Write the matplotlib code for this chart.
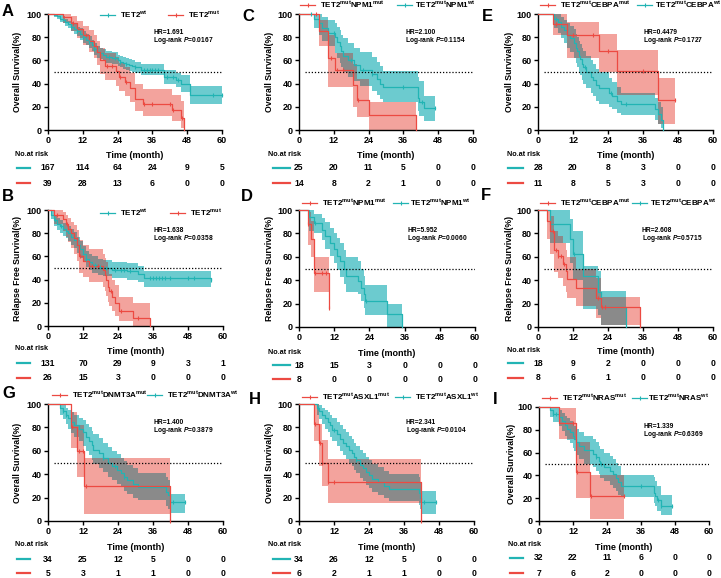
import numpy as np
import matplotlib
matplotlib.use('Agg')
import matplotlib.pyplot as plt
from matplotlib import transforms

plt.rcParams['font.family'] = ['Liberation Sans', 'DejaVu Sans']
plt.rcParams['font.weight'] = 'bold'
plt.rcParams['mathtext.fontset'] = 'custom'
plt.rcParams['mathtext.rm'] = 'Liberation Sans:bold'
plt.rcParams['mathtext.it'] = 'Liberation Sans:italic:bold'
plt.rcParams['mathtext.bf'] = 'Liberation Sans:bold'

CYAN, CYAN_F = '#22b4b4', '#6ccbcf'
RED, RED_F = '#ec4a42', '#f3a39d'
GRAY = '#8a8a8a'

# ---- data (time in months, survival %) ----
# A: OS, TET2 wt vs mut
A_wt_t = [0, 2, 3, 4, 5, 6, 7, 8, 9, 10, 11, 12, 13, 14, 15, 16, 17, 18, 19, 20, 22, 24, 25, 26, 27, 28, 29, 30, 32, 40, 44, 46, 49, 60]
A_wt_s = [100, 99, 98, 96, 95, 93, 91, 89, 87, 85, 83, 80, 78, 76, 73, 70, 67, 66, 65, 63, 62, 60, 59, 58, 57, 56, 55, 54, 52, 46, 43, 40, 30, 30]
A_wt_lo = [100, 97, 96, 93, 92, 90, 88, 85, 83, 81, 78, 75, 73, 71, 68, 65, 62, 61, 60, 58, 57, 55, 54, 53, 52, 51, 50, 49, 47, 40, 37, 33, 22, 22]
A_wt_hi = [100, 100, 100, 99, 98, 96, 94, 93, 91, 89, 88, 85, 83, 81, 78, 75, 72, 71, 70, 68, 67, 65, 64, 63, 62, 61, 60, 59, 57, 52, 49, 47, 38, 38]
A_wt_c = [8, 10, 12, 14, 16, 21, 23, 25, 27, 30, 33, 34, 35, 36, 37, 38, 41, 43, 45, 57, 60]
A_mut_t = [0, 5, 8, 10, 12, 14, 16, 17, 18, 19.7, 23.5, 24.5, 26.5, 28.3, 30, 32.9, 42.6, 46, 46.9]
A_mut_s = [100, 97, 92, 87, 82, 77, 72, 67, 60, 55, 51, 46, 41, 36, 27, 22, 17, 10, 0]
A_mut_lo = [100, 92, 85, 79, 73, 67, 62, 56, 48, 43, 38, 34, 29, 24, 16, 12, 8, 2, 0]
A_mut_hi = [100, 100, 98, 94, 90, 86, 82, 77, 71, 66, 63, 58, 54, 49, 40, 35, 30, 25, 0]
A_mut_c = [8.5, 13, 20.5, 22, 25, 27, 33, 36, 42, 43, 46.3]

# B: RFS, TET2 wt vs mut
B_wt_t = [0, 1, 2, 3, 4, 5, 6, 7, 8, 9, 10, 11, 12, 13, 14, 15, 17, 19, 22, 27, 31, 33, 56]
B_wt_s = [100, 96, 91, 88, 86, 84, 82, 80, 77, 74, 70, 66, 62, 58, 55, 53, 51, 50, 48, 47, 45, 41, 40]
B_wt_lo = [100, 92, 86, 83, 80, 78, 76, 73, 70, 67, 63, 59, 55, 51, 48, 46, 44, 43, 41, 40, 38, 34, 34]
B_wt_hi = [100, 99, 96, 93, 91, 89, 88, 86, 84, 81, 77, 73, 69, 65, 62, 60, 58, 57, 55, 54, 52, 47, 46]
B_wt_c = [2.5, 4.5, 13, 15, 16, 18, 20, 23, 25, 26, 28, 35, 36, 37, 38, 39, 40, 42, 48, 50, 56]
B_mut_t = [0, 2, 5, 6, 7, 8, 9, 10, 10.5, 12, 14, 19, 19.5, 20, 20.5, 21, 22, 23, 24.5, 29, 35]
B_mut_s = [100, 96, 92, 88, 84, 80, 76, 70, 60, 56, 52, 48, 44, 40, 34, 30, 25, 20, 13, 7, 0]
B_mut_lo = [100, 88, 82, 77, 72, 67, 62, 56, 46, 42, 38, 34, 30, 26, 21, 17, 13, 9, 4, 0, 0]
B_mut_hi = [100, 100, 98, 96, 93, 90, 87, 83, 74, 70, 66, 62, 59, 55, 49, 45, 40, 35, 25, 20, 0]
B_mut_c = [3, 6.5, 11, 15, 17, 21.5, 25, 31]

# C: OS, NPM1
C_mut_t = [0, 7, 10, 12.4, 18.7, 20, 24, 40.2]
C_mut_s = [100, 85, 62, 52, 39, 26, 13, 0]
C_mut_lo = [100, 72, 37, 37, 20, 11, 0, 0]
C_mut_hi = [100, 95, 82, 66, 57, 44, 24, 0]
C_mut_c = [6, 11, 13, 15, 20.5]
C_wt_t = [0, 5, 7, 8, 10, 12.5, 13, 14, 14.5, 15, 17, 19, 21, 25, 27, 28, 29, 41, 41.5, 43, 47]
C_wt_s = [100, 96, 92, 88, 84, 80, 76, 72, 68, 64, 60, 56, 52, 48, 44, 40, 37, 28, 24, 19, 19]
C_wt_lo = [100, 88, 82, 77, 72, 66, 62, 58, 54, 50, 46, 42, 38, 34, 30, 27, 24, 16, 12, 8, 8]
C_wt_hi = [100, 100, 100, 97, 95, 92, 89, 86, 82, 79, 75, 71, 67, 63, 59, 55, 51, 46, 42, 29, 29]
C_wt_c = [4, 12, 18, 22, 25, 36, 42.5, 47]

# D: RFS, NPM1
D_mut_t = [0, 3, 4, 5, 10.2]
D_mut_s = [100, 88, 75, 46, 16]
D_mut_lo = [100, 70, 60, 30, 16]
D_mut_hi = [100, 98, 91, 60, 16]
D_mut_c = [3.2, 5.3, 7.7, 9.2, 10.2]
D_wt_t = [0, 3.5, 5, 8, 9, 10.5, 12, 13, 14, 15.5, 16, 20, 21, 22, 22.5, 30, 35]
D_wt_s = [100, 94, 89, 83, 78, 72, 67, 61, 56, 50, 44, 39, 33, 28, 22, 11, 0]
D_wt_lo = [100, 82, 80, 74, 67, 61, 55, 49, 43, 37, 30, 28, 22, 16, 10, 0, 0]
D_wt_hi = [100, 100, 97, 93, 90, 85, 80, 76, 72, 66, 60, 56, 50, 44, 36, 20, 0]
D_wt_c = [5.5, 23]

# E: OS, CEBPA
E_mut_t = [0, 5, 10, 21, 27, 41, 47]
E_mut_s = [100, 91, 82, 68, 51, 26, 26]
E_mut_lo = [100, 82, 62, 50, 30, 5, 5]
E_mut_hi = [100, 100, 93, 83, 69, 45, 45]
E_mut_c = [6, 12, 19, 24, 36, 47]
E_wt_t = [0, 5.5, 7, 8, 9, 10, 11, 12.5, 13, 13.5, 14, 14.5, 15, 15.5, 16.5, 18, 19, 20, 21, 24.5, 25.5, 27, 28.5, 40, 41, 42, 43]
E_wt_s = [100, 96, 93, 89, 86, 82, 79, 75, 71, 68, 64, 61, 57, 54, 50, 46, 43, 39, 36, 32, 29, 25, 22, 18, 14, 9, 0]
E_wt_lo = [100, 88, 84, 79, 75, 71, 67, 62, 58, 54, 50, 47, 43, 40, 36, 32, 29, 25, 22, 20, 18, 15, 13, 9, 5, 2, 0]
E_wt_hi = [100, 100, 100, 97, 95, 92, 90, 87, 83, 80, 77, 74, 71, 68, 64, 60, 57, 53, 50, 45, 41, 37, 32, 28, 24, 20, 0]
E_wt_c = [6, 16, 25, 30]

# F: RFS, CEBPA
F_mut_t = [0, 3, 4, 5.5, 7, 8.5, 9.5, 10, 13, 20, 21.5, 35]
F_mut_s = [100, 91, 82, 66, 61, 54, 48, 41, 33, 25, 17, 0]
F_mut_lo = [100, 75, 62, 47, 42, 35, 30, 25, 18, 8, 2, 0]
F_mut_hi = [100, 100, 95, 82, 78, 72, 66, 60, 50, 42, 26, 0]
F_mut_c = [5, 6, 7, 8, 9, 20.5, 22, 23]
F_wt_t = [0, 4, 11, 12, 15.5, 20.5, 21.5, 30]
F_wt_s = [100, 88, 75, 62, 44, 30, 17, 0]
F_wt_lo = [100, 72, 55, 40, 15, 10, 2, 0]
F_wt_hi = [100, 100, 92, 82, 52, 48, 31, 0]
F_wt_c = [12.5]

# G: OS, DNMT3A
G_mut_t = [0, 8, 10, 12.5, 42]
G_mut_s = [100, 80, 60, 30, 0]
G_mut_lo = [100, 62, 38, 6, 0]
G_mut_hi = [100, 93, 82, 54, 0]
G_mut_c = [8.3, 10.5, 12, 13, 42]
G_wt_t = [0, 4, 5, 6, 7, 8, 9, 10.5, 12, 13, 14, 15, 15.5, 17.5, 19, 20.5, 22, 23.5, 25, 26, 27, 29, 31, 40.5, 41, 42, 47]
G_wt_s = [100, 97, 94, 91, 88, 85, 82, 79, 76, 72, 68, 65, 61, 58, 54, 50, 47, 44, 41, 38, 35, 32, 29, 25, 22, 16, 16]
G_wt_lo = [100, 91, 87, 83, 79, 75, 72, 68, 64, 60, 56, 52, 49, 45, 42, 38, 35, 32, 29, 26, 23, 20, 18, 13, 10, 7, 7]
G_wt_hi = [100, 100, 99, 97, 95, 93, 91, 88, 86, 83, 80, 77, 74, 71, 67, 63, 60, 57, 54, 51, 48, 45, 41, 38, 35, 23, 23]
G_wt_c = [5, 6, 19, 23, 26, 43, 47]

# H: OS, ASXL1
H_mut_t = [0, 5, 7, 8, 10, 42]
H_mut_s = [100, 83, 67, 50, 33, 0]
H_mut_lo = [100, 68, 47, 30, 15, 0]
H_mut_hi = [100, 100, 83, 69, 53, 0]
H_mut_c = [5.5, 7.3, 8, 10, 12, 42]
H_wt_t = [0, 6, 7, 8, 9, 10, 10.5, 11.2, 12.9, 14, 15, 16, 17, 18, 19, 19.5, 21, 22, 23, 24, 25, 27, 29, 31, 41, 41.5, 42, 47]
H_wt_s = [100, 97, 94, 91, 88, 85, 82, 78, 74, 70, 67, 64, 61, 58, 55, 52, 48, 45, 42, 39, 36, 33, 30, 27, 24, 20, 16, 16]
H_wt_lo = [100, 91, 87, 83, 79, 76, 72, 68, 64, 60, 56, 53, 50, 47, 44, 41, 37, 34, 31, 28, 25, 22, 20, 17, 14, 10, 6, 6]
H_wt_hi = [100, 100, 99, 97, 95, 93, 91, 88, 85, 82, 79, 76, 73, 70, 67, 64, 61, 58, 55, 52, 49, 46, 43, 40, 38, 33, 26, 26]
H_wt_c = [6.5, 12, 19.5, 43, 47]

# I: OS, NRAS
I_mut_t = [0, 7, 13, 18, 30]
I_mut_s = [100, 86, 43, 22, 22]
I_mut_lo = [100, 72, 20, 2, 2]
I_mut_hi = [100, 99, 69, 40, 40]
I_mut_c = [12, 13.5, 18.3, 30]
I_wt_t = [0, 4, 5, 7, 8, 9, 10, 11, 12, 12.5, 13, 14, 16, 19, 20, 21, 21.5, 23, 25, 26, 27, 28, 29, 40.5, 41, 41.5, 43, 47]
I_wt_s = [100, 97, 94, 91, 88, 84, 81, 78, 75, 72, 69, 66, 62, 59, 56, 53, 50, 47, 44, 41, 38, 34, 31, 25, 22, 18, 13, 13]
I_wt_lo = [100, 91, 87, 83, 79, 75, 71, 68, 64, 61, 58, 54, 50, 47, 44, 41, 38, 35, 32, 29, 26, 23, 21, 16, 13, 9, 5, 5]
I_wt_hi = [100, 100, 99, 97, 95, 92, 90, 88, 86, 83, 81, 78, 75, 72, 69, 66, 63, 60, 57, 54, 51, 48, 40, 39, 35, 31, 23, 23]
I_wt_c = [5, 6, 20, 22, 36, 42, 43, 47]

# numbers at risk (cyan row, red row)
risk_times = [0, 12, 24, 36, 48, 60]
A_risk = ([167, 114, 64, 24, 9, 5], [39, 28, 13, 6, 0, 0])
B_risk = ([131, 70, 29, 9, 3, 1], [26, 15, 3, 0, 0, 0])
C_risk = ([25, 20, 11, 5, 0, 0], [14, 8, 2, 1, 0, 0])
D_risk = ([18, 15, 3, 0, 0, 0], [8, 0, 0, 0, 0, 0])
E_risk = ([28, 20, 8, 3, 0, 0], [11, 8, 5, 3, 0, 0])
F_risk = ([18, 9, 2, 0, 0, 0], [8, 6, 1, 0, 0, 0])
G_risk = ([34, 25, 12, 5, 0, 0], [5, 3, 1, 1, 0, 0])
H_risk = ([34, 26, 12, 5, 0, 0], [6, 2, 1, 1, 0, 0])
I_risk = ([32, 22, 11, 6, 0, 0], [7, 6, 2, 0, 0, 0])

hr_text = {'A': ('1.691', '0.0167'), 'B': ('1.638', '0.0358'), 'C': ('2.100', '0.1154'),
           'D': ('5.952', '0.0060'), 'E': ('0.4479', '0.1727'), 'F': ('2.608', '0.5715'),
           'G': ('1.400', '0.3879'), 'H': ('2.341', '0.0104'), 'I': ('1.339', '0.6369')}
OS = 'Overall Survival(%)'
RFS = 'Relapse Free Survival(%)'
gene = {'C': 'NPM1', 'D': 'NPM1', 'E': 'CEBPA', 'F': 'CEBPA', 'G': 'DNMT3A', 'H': 'ASXL1', 'I': 'NRAS'}

# layout in pixels
W, H = 721, 578
layout = {
    'A': dict(ax=(48, 14, 174, 116), let=(2, 4), leg=[(100, 120), (168, 188)], legy=15, hr=(153, 33), yl=18, xl=155, rk=(168, 183), nar=(15, 154), rh=(17, 30)),
    'B': dict(ax=(48, 210, 175, 116), let=(2, 189), leg=[(100, 120), (170, 190)], legy=213, hr=(153, 230), yl=18, xl=352, rk=(363, 378), nar=(15, 349), rh=(17, 30)),
    'C': dict(ax=(299, 14, 174, 116), let=(242, 9), leg=[(300, 320), (397, 415)], legy=5, hr=(405, 33), yl=270, xl=156, rk=(168, 183), nar=(268, 154), rh=(273, 290)),
    'D': dict(ax=(299, 210, 176, 117), let=(241, 189), leg=[(302, 322), (393, 410)], legy=203, hr=(407, 230), yl=270, xl=353, rk=(365, 379), nar=(268, 352), rh=(273, 290)),
    'E': dict(ax=(538, 14, 175, 116), let=(482, 9), leg=[(540, 560), (637, 655)], legy=5, hr=(643, 33), yl=510, xl=156, rk=(168, 183), nar=(507, 154), rh=(508, 523)),
    'F': dict(ax=(538, 210, 175, 117), let=(481, 188), leg=[(540, 560), (632, 650)], legy=203, hr=(642, 230), yl=510, xl=352, rk=(363, 378), nar=(507, 350), rh=(508, 523)),
    'G': dict(ax=(48, 404, 175, 117), let=(2, 386), leg=[(52, 72), (147, 167)], legy=395, hr=(153, 423), yl=18, xl=547, rk=(559, 573), nar=(15, 544), rh=(17, 30)),
    'H': dict(ax=(299, 404, 175, 117), let=(249, 392), leg=[(302, 322), (395, 415)], legy=397, hr=(406, 423), yl=270, xl=547, rk=(559, 573), nar=(268, 544), rh=(273, 290)),
    'I': dict(ax=(539, 407, 170, 114), let=(493, 392), leg=[(542, 562), (632, 648)], legy=398, hr=(643, 427), yl=512, xl=547, rk=(558, 573), nar=(508, 544), rh=(510, 523)),
}

panels = {
    'A': ((A_wt_t, A_wt_s, A_wt_lo, A_wt_hi, A_wt_c), (A_mut_t, A_mut_s, A_mut_lo, A_mut_hi, A_mut_c), A_risk, OS),
    'B': ((B_wt_t, B_wt_s, B_wt_lo, B_wt_hi, B_wt_c), (B_mut_t, B_mut_s, B_mut_lo, B_mut_hi, B_mut_c), B_risk, RFS),
    'C': ((C_wt_t, C_wt_s, C_wt_lo, C_wt_hi, C_wt_c), (C_mut_t, C_mut_s, C_mut_lo, C_mut_hi, C_mut_c), C_risk, OS),
    'D': ((D_wt_t, D_wt_s, D_wt_lo, D_wt_hi, D_wt_c), (D_mut_t, D_mut_s, D_mut_lo, D_mut_hi, D_mut_c), D_risk, RFS),
    'E': ((E_wt_t, E_wt_s, E_wt_lo, E_wt_hi, E_wt_c), (E_mut_t, E_mut_s, E_mut_lo, E_mut_hi, E_mut_c), E_risk, OS),
    'F': ((F_wt_t, F_wt_s, F_wt_lo, F_wt_hi, F_wt_c), (F_mut_t, F_mut_s, F_mut_lo, F_mut_hi, F_mut_c), F_risk, RFS),
    'G': ((G_wt_t, G_wt_s, G_wt_lo, G_wt_hi, G_wt_c), (G_mut_t, G_mut_s, G_mut_lo, G_mut_hi, G_mut_c), G_risk, OS),
    'H': ((H_wt_t, H_wt_s, H_wt_lo, H_wt_hi, H_wt_c), (H_mut_t, H_mut_s, H_mut_lo, H_mut_hi, H_mut_c), H_risk, OS),
    'I': ((I_wt_t, I_wt_s, I_wt_lo, I_wt_hi, I_wt_c), (I_mut_t, I_mut_s, I_mut_lo, I_mut_hi, I_mut_c), I_risk, OS),
}


def step_at(t, v, x):
    i = np.searchsorted(np.asarray(t), x, side='right') - 1
    return np.asarray(v, dtype=float)[np.clip(i, 0, len(v) - 1)]


fig = plt.figure(figsize=(W / 100, H / 100), dpi=100)
ov = fig.add_axes([0, 0, 1, 1])
ov.set_xlim(0, W)
ov.set_ylim(H, 0)
ov.axis('off')

for key, (wt, mut, risk, ylab) in panels.items():
    L = layout[key]
    x0, yt, w, h = L['ax']
    ax = fig.add_axes([x0 / W, 1 - (yt + h) / H, w / W, h / H])
    # confidence bands
    for (t, s, lo, hi, c), fc in ((wt, CYAN_F), (mut, RED_F)):
        ax.fill_between(t, lo, hi, step='post', color=fc, lw=0, zorder=1)
    # where the two bands overlap -> gray
    tend = min(wt[0][-1], mut[0][-1])
    grid = np.unique(np.concatenate([wt[0], mut[0]]))
    grid = grid[grid <= tend]
    olo = np.maximum(step_at(wt[0], wt[2], grid), step_at(mut[0], mut[2], grid))
    ohi = np.minimum(step_at(wt[0], wt[3], grid), step_at(mut[0], mut[3], grid))
    ohi = np.maximum(ohi, olo)
    ax.fill_between(grid, olo, ohi, step='post', color=GRAY, lw=0, zorder=2)
    # curves + censor ticks
    for (t, s, lo, hi, c), lc in ((wt, CYAN), (mut, RED)):
        ax.step(t, s, where='post', color=lc, lw=0.9, zorder=4, clip_on=False)
        ax.plot(c, step_at(t, s, c), ls='none', marker='|', ms=3, mew=0.8, color=lc, zorder=5, clip_on=False)
    ax.plot([2, 60], [50, 50], ls=(0, (1, 1.5)), color='black', lw=0.9, zorder=6)

    ax.set_xlim(0, 60)
    ax.set_ylim(0, 100)
    ax.set_xticks(risk_times)
    ax.set_yticks([0, 20, 40, 60, 80, 100])
    ax.spines['top'].set_visible(False)
    ax.spines['right'].set_visible(False)
    for sp in ('left', 'bottom'):
        ax.spines[sp].set_linewidth(1.0)
    ax.tick_params(length=3, width=1.0, labelsize=6.5, pad=1.5)
    ax.patch.set_alpha(0)

    ov.text(L['let'][0], L['let'][1], key, fontsize=12, fontweight='bold', ha='left', va='top')
    ov.text(L['yl'], yt + h / 2, ylab, rotation=90, fontsize=6.3, ha='center', va='center')
    ov.text(x0 + w / 2, L['xl'], 'Time (month)', fontsize=6.5, ha='center', va='center')

    hr, p = hr_text[key]
    ov.text(L['hr'][0], L['hr'][1], 'HR=' + hr, fontsize=4.8, ha='left', va='center')
    ov.text(L['hr'][0], L['hr'][1] + 8, 'Log-rank $P$=' + p, fontsize=4.8, ha='left', va='center')

    # legend
    if key in ('A', 'B'):
        items = [(CYAN, 'TET2$^{\\mathrm{wt}}$'), (RED, 'TET2$^{\\mathrm{mut}}$')]
    else:
        g = gene[key]
        items = [(RED, 'TET2$^{\\mathrm{mut}}$' + g + '$^{\\mathrm{mut}}$'),
                 (CYAN, 'TET2$^{\\mathrm{mut}}$' + g + '$^{\\mathrm{wt}}$')]
    for (hx, tx), (col, lab) in zip(L['leg'], items):
        ov.plot([hx, hx + 15], [L['legy'], L['legy']], color=col, lw=0.9)
        ov.plot([hx + 7.5], [L['legy']], marker='|', ms=3, mew=0.8, color=col)
        ov.text(tx, L['legy'], lab, fontsize=5.8, ha='left', va='center')

    # numbers at risk
    ov.text(L['nar'][0], L['nar'][1], 'No.at risk', fontsize=5.2, ha='left', va='center')
    tr = transforms.blended_transform_factory(ax.transData, ov.transData)
    for ry, col, vals in zip(L['rk'], (CYAN, RED), risk):
        ov.plot([L['rh'][0], L['rh'][1]], [ry, ry], color=col, lw=1.6)
        for tt, v in zip(risk_times, vals):
            ov.text(tt, ry, str(v), transform=tr, fontsize=6.2, ha='center', va='center')

fig.savefig('out.png', dpi=100)
